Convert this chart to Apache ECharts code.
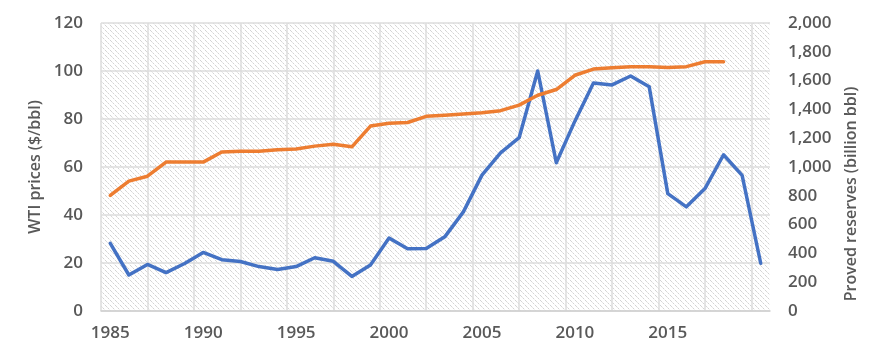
<!DOCTYPE html>
<html><head><meta charset="utf-8">
<script src="https://cdn.jsdelivr.net/npm/echarts@6/dist/echarts.min.js"></script>
<style>html,body{margin:0;padding:0;background:#fff}#c{width:886px;height:360px}</style>
</head><body><div id="c"></div>
<script>
const years = ['1985','1986','1987','1988','1989','1990','1991','1992','1993','1994','1995','1996','1997','1998','1999','2000','2001','2002','2003','2004','2005','2006','2007','2008','2009','2010','2011','2012','2013','2014','2015','2016','2017','2018','2019','2020'];
const wtiPrices = [28.2,15.0,19.4,16.0,19.8,24.4,21.4,20.6,18.5,17.3,18.5,22.2,20.7,14.4,19.2,30.4,25.9,26.0,30.9,41.3,56.6,65.9,72.2,100.0,61.8,79.1,95.0,94.2,97.9,93.4,48.9,43.4,51.0,65.1,56.5,19.9];
const provedReserves = [803,902,936,1034,1034,1034,1104,1110,1110,1120,1125,1145,1158,1140,1284,1304,1309,1352,1360,1368,1376,1391,1430,1498,1538,1637,1680,1690,1696,1697,1691,1697,1731,1731,null,null];
const xTickLabels = ['1985','1990','1995','2000','2005','2010','2015'];
const leftTicks = {min:0, max:120, interval:20};
const rightTicks = {min:0, max:2000, interval:200};

function hatch(){
  const c = document.createElement('canvas');
  c.width = 5; c.height = 5;
  const g = c.getContext('2d');
  g.fillStyle = '#ffffff'; g.fillRect(0,0,5,5);
  const cols = ['#d2d2d2','#d6d6d6','#e6e6e6','#d4d4d4','#f2f2f2'];
  for (let i=0;i<5;i++){ g.fillStyle = cols[i]; g.fillRect(i,i,1,1); }
  return c;
}

const chart = echarts.init(document.getElementById('c'), null, {renderer:'canvas'});
const txt = {color:'#595959', fontSize:17, fontFamily:'Open Sans', fontWeight:600};
chart.setOption({
  animation:false,
  grid:{left:101,right:116,top:23,bottom:49,show:true,borderWidth:0,
        backgroundColor:{image:hatch(),repeat:'repeat'}},
  xAxis:[
    {type:'category',data:years,boundaryGap:true,
     axisLine:{lineStyle:{color:'#d0d0d0',width:1.5}},
     axisTick:{show:false},
     splitLine:{show:false},
     axisLabel:Object.assign({margin:14,interval:(i,v)=>xTickLabels.indexOf(v)>=0},txt)},
    {type:'value',min:0,max:36,interval:2.5,position:'bottom',
     axisLine:{show:false},axisTick:{show:false},axisLabel:{show:false},
     splitLine:{show:true,showMaxLine:false,lineStyle:{color:'#dcdcdc',width:1.5}}}
  ],
  yAxis:[
    {type:'value',min:leftTicks.min,max:leftTicks.max,interval:leftTicks.interval,
     name:'WTI prices ($/bbl)',nameLocation:'middle',nameGap:52,
     nameTextStyle:{color:'#595959',fontSize:16,fontFamily:'Open Sans',fontWeight:600},
     axisLine:{show:false},axisTick:{show:false},
     axisLabel:Object.assign({margin:18},txt),
     splitLine:{show:true,lineStyle:{color:'#dcdcdc',width:1.5}}},
    {type:'value',min:rightTicks.min,max:rightTicks.max,interval:rightTicks.interval,position:'right',
     name:'Proved reserves (billion bbl)',nameLocation:'middle',nameGap:73,
     nameTextStyle:{color:'#595959',fontSize:16,fontFamily:'Open Sans',fontWeight:600,padding:[0,54,0,0]},
     axisLine:{show:false},axisTick:{show:false},
     axisLabel:Object.assign({margin:18,formatter:v=>v.toLocaleString('en-US')},txt),
     splitLine:{show:false}}
  ],
  series:[
    {name:'WTI prices',type:'line',xAxisIndex:0,yAxisIndex:0,data:wtiPrices,symbol:'none',
     lineStyle:{color:'#4472C4',width:3.5,join:'round',cap:'round'},itemStyle:{color:'#4472C4'}},
    {name:'Proved reserves',type:'line',xAxisIndex:0,yAxisIndex:1,data:provedReserves,symbol:'none',
     lineStyle:{color:'#ED7D31',width:3.5,join:'round',cap:'round'},itemStyle:{color:'#ED7D31'}}
  ]
});
</script></body></html>
